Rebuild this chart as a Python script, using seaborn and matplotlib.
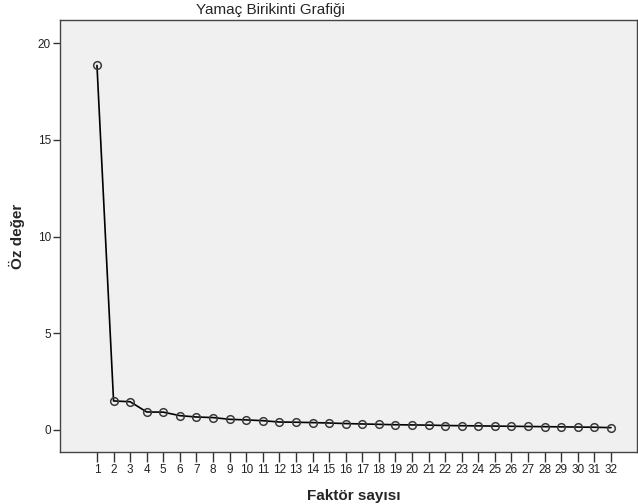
import matplotlib
matplotlib.use("Agg")
import matplotlib.pyplot as plt
import seaborn as sns
import pandas as pd

factors = list(range(1, 33))
eigenvalues = [18.85, 1.50, 1.46, 0.93, 0.92, 0.74, 0.67, 0.64, 0.55, 0.52,
               0.48, 0.41, 0.40, 0.38, 0.36, 0.33, 0.31, 0.29, 0.27, 0.26,
               0.25, 0.23, 0.22, 0.21, 0.20, 0.19, 0.18, 0.17, 0.16, 0.15,
               0.14, 0.12]
y_ticks = [0, 5, 10, 15, 20]
title = "Yamaç Birikinti Grafiği"
xlabel = "Faktör sayısı"
ylabel = "Öz değer"

sns.set_style("white")
plt.rcParams['font.family'] = ['Liberation Sans', 'DejaVu Sans']

df = pd.DataFrame({"Faktör": factors, "Öz": eigenvalues})

fig = plt.figure(figsize=(6.38, 5.04), dpi=100)
ax = fig.add_axes([60/638, 1 - 452/504, (637-60)/638, (452-20)/504])
ax.set_facecolor("#F0F0F0")

sns.lineplot(data=df, x="Faktör", y="Öz", ax=ax, color="black", linewidth=1.2,
             marker="o", markersize=5.5, markerfacecolor="none",
             markeredgecolor="#3a3a3a", markeredgewidth=1.1)

ax.set_xlim(-1.23, 33.57)
ax.set_ylim(-1.14, 21.2)
ax.set_xticks(factors)
ax.set_xticklabels([str(f) for f in factors], fontsize=8.5, color="#222222")
ax.set_yticks(y_ticks)
ax.set_yticklabels([str(t) for t in y_ticks], fontsize=8.5, color="#222222")
ax.tick_params(axis="x", bottom=True, direction="out", length=7, width=1,
               color="#333333", pad=1.5)
ax.tick_params(axis="y", left=True, direction="out", length=5, width=1,
               color="#333333", pad=1.5)

for s in ["left", "bottom", "top", "right"]:
    ax.spines[s].set_color("#444444")
    ax.spines[s].set_linewidth(1.0)

ax.set_xlabel(xlabel, fontsize=11, fontweight="bold", labelpad=11)
ax.xaxis.set_label_coords((354-60)/(637-60), -0.085)
ax.set_ylabel(ylabel, fontsize=11, fontweight="bold", labelpad=9)
fig.text(270/638, 1 - 10/504, title, fontsize=11, ha="center", va="center")

fig.savefig("out.png", dpi=100)
